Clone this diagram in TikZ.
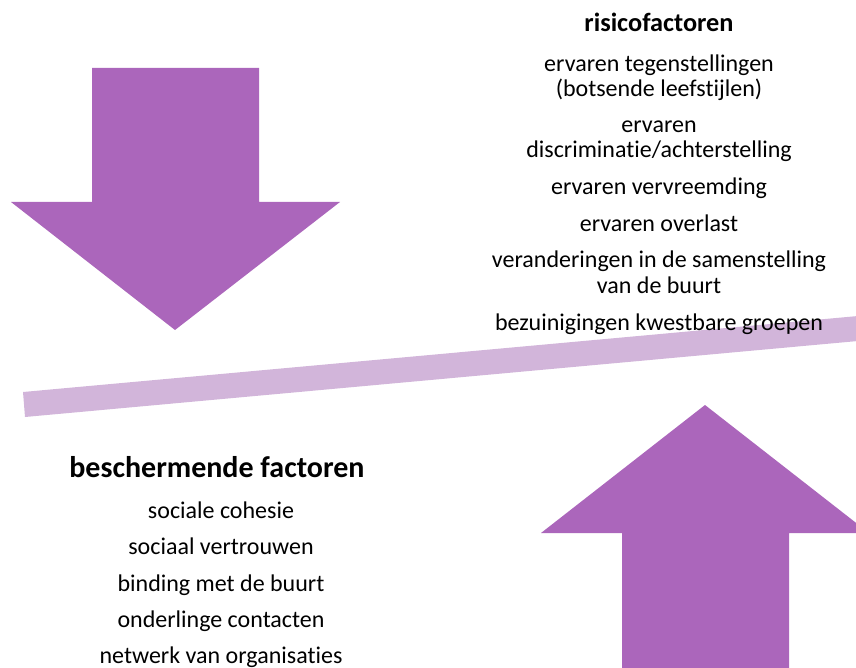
\documentclass[tikz,border=0pt]{standalone}
\usepackage{fontspec}
\setmainfont{Carlito}[Ligatures=NoCommon]
\definecolor{paars}{RGB}{171,102,187}
\definecolor{lichtpaars}{RGB}{210,181,218}

\begin{document}
\begin{tikzpicture}[x=1pt, y=-1pt, every node/.style={align=center, anchor=base, inner sep=0pt, font=\fontsize{24}{25}\selectfont}]
    \tikzset{kop/.style={font=\fontsize{26.3}{30}\selectfont\bfseries},
             grotekop/.style={font=\fontsize{30}{34}\selectfont\bfseries}}

    \useasboundingbox (0,0) rectangle (856,668);
    \clip (0,0) rectangle (856,668);

    %balk
    \fill[lichtpaars] (23,392) -- (858,316) -- (858,341) -- (25,417) -- cycle;

    %pijl omlaag
    \fill[paars] (92,68) -- (259,68) -- (259,202) -- (340,202) -- (175,330) -- (11,202) -- (92,202) -- cycle;

    %pijl omhoog
    \fill[paars] (705,405) -- (869,533) -- (789,533) -- (789,670) -- (622,670) -- (622,533) -- (541,533) -- cycle;

    %risicofactoren (base = laatste regel)
    \node[kop] (risico) at (659,32) {risicofactoren};
    \node (tegen) at (659,97) {ervaren tegenstellingen\\(botsende leefstijlen)};
    \node (discr) at (659,158) {ervaren\\discriminatie/achterstelling};
    \node (vervr) at (659,195) {ervaren vervreemding};
    \node (overl) at (659,232) {ervaren overlast};
    \node (samen) at (659,293) {veranderingen in de samenstelling\\van de buurt};
    \node (bezuin) at (659,330) {bezuinigingen kwestbare groepen};

    %beschermende factoren
    \node[grotekop] (bescherm) at (217,477) {beschermende factoren};
    \node (cohesie) at (221,518) {sociale cohesie};
    \node (vertrouw) at (221,554) {sociaal vertrouwen};
    \node (binding) at (221,591) {binding met de buurt};
    \node (contact) at (221,627) {onderlinge contacten};
    \node (netwerk) at (221,663) {netwerk van organisaties};

\end{tikzpicture}
\end{document}
